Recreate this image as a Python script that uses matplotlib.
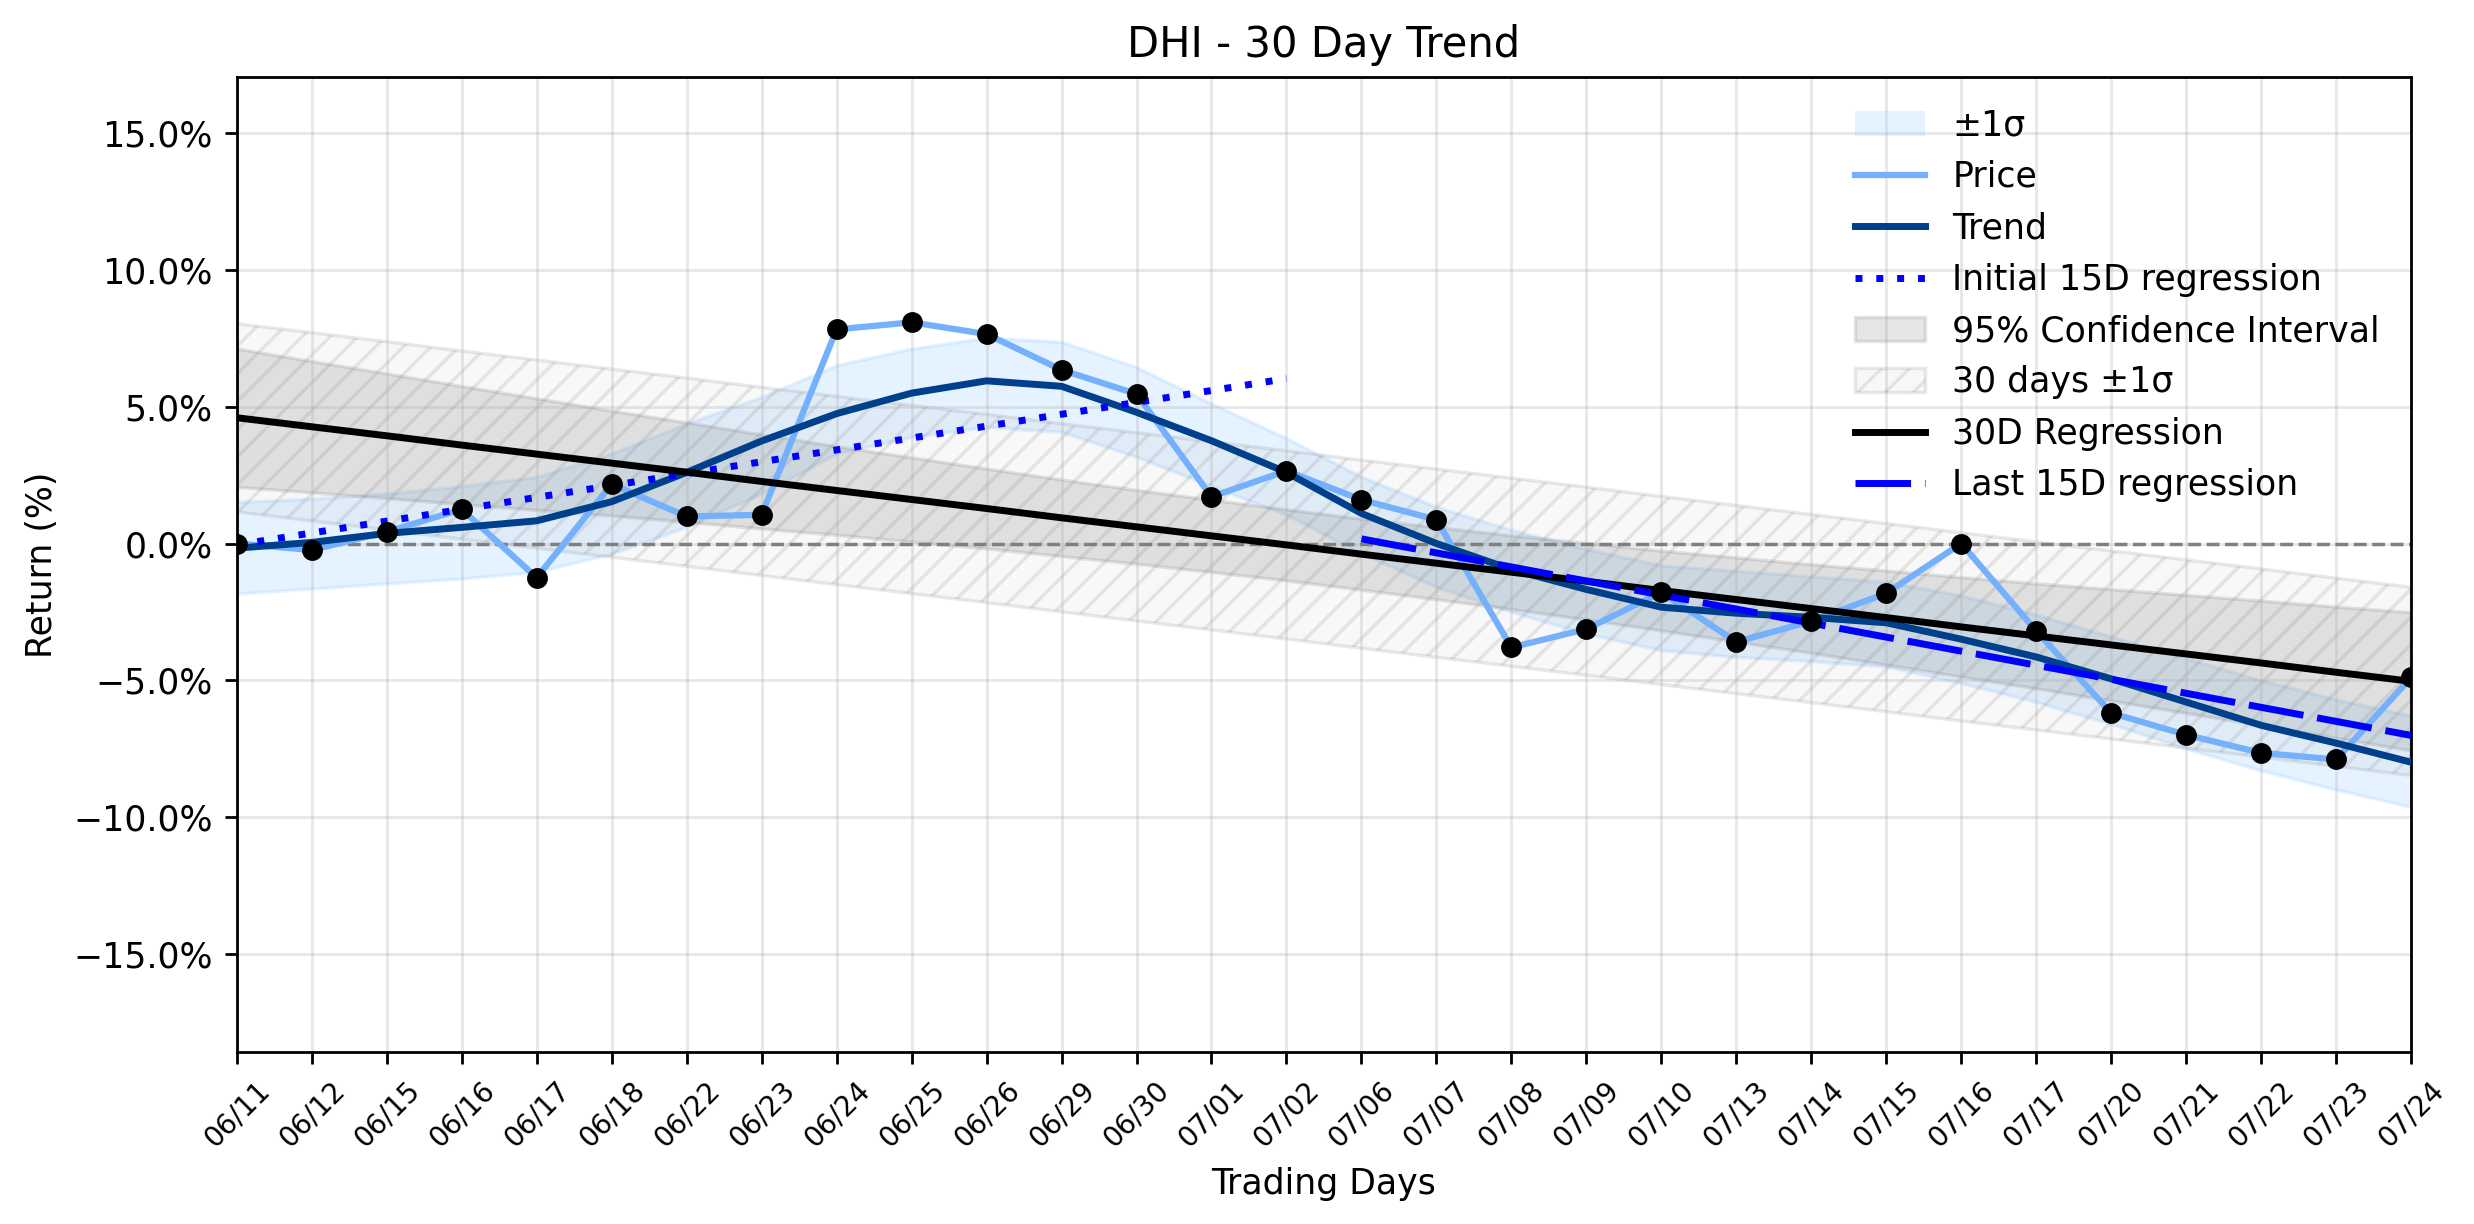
import numpy as np
import matplotlib.pyplot as plt
from matplotlib.patches import Patch
from matplotlib.lines import Line2D

# trading days shown on the x axis
dates = ['06/11', '06/12', '06/15', '06/16', '06/17', '06/18', '06/22', '06/23', '06/24', '06/25',
         '06/26', '06/29', '06/30', '07/01', '07/02', '07/06', '07/07', '07/08', '07/09', '07/10',
         '07/13', '07/14', '07/15', '07/16', '07/17', '07/20', '07/21', '07/22', '07/23', '07/24']

# cumulative return (%) of the price
price = [0.0, -0.24, 0.43, 1.25, -1.25, 2.17, 0.99, 1.05, 7.83, 8.09,
         7.66, 6.35, 5.47, 1.71, 2.66, 1.6, 0.87, -3.8, -3.13, -1.78,
         -3.6, -2.84, -1.82, 0.0, -3.2, -6.2, -7.0, -7.66, -7.9, -4.9]

# smoothed trend and its +/-1 sigma band
trend = [-0.17, 0.04, 0.37, 0.59, 0.83, 1.53, 2.6, 3.75, 4.75, 5.5,
         5.95, 5.75, 4.8, 3.76, 2.6, 1.1, 0.0, -0.95, -1.68, -2.33,
         -2.55, -2.7, -2.9, -3.5, -4.15, -4.95, -5.8, -6.65, -7.3, -8.0]
band_upper = [1.52, 1.64, 1.83, 2.1, 2.44, 3.29, 4.39, 5.36, 6.52, 7.13,
              7.53, 7.38, 6.45, 5.12, 3.85, 2.44, 1.34, 0.5, -0.2, -0.8,
              -1.0, -1.2, -1.4, -1.9, -2.6, -3.4, -4.2, -5.0, -5.7, -6.3]
band_lower = [-1.83, -1.65, -1.46, -1.28, -1.04, -0.37, 0.61, 1.83, 3.29, 3.9,
              4.27, 4.08, 3.17, 2.1, 1.05, -0.37, -1.59, -2.5, -3.3, -3.9,
              -4.15, -4.3, -4.5, -5.1, -5.8, -6.6, -7.5, -8.3, -9.0, -9.63]

# 30 day regression with its 95% confidence half width
reg_30d = [4.60, 4.27, 3.94, 3.60, 3.27, 2.94, 2.61, 2.27, 1.94, 1.61,
           1.28, 0.94, 0.61, 0.28, -0.05, -0.39, -0.72, -1.05, -1.38, -1.72,
           -2.05, -2.38, -2.71, -3.05, -3.38, -3.71, -4.04, -4.37, -4.71, -5.04]
ci_half = [2.53, 2.40, 2.28, 2.16, 2.04, 1.92, 1.82, 1.72, 1.62, 1.54,
           1.46, 1.40, 1.35, 1.32, 1.30, 1.30, 1.32, 1.35, 1.40, 1.46,
           1.54, 1.62, 1.72, 1.82, 1.92, 2.04, 2.16, 2.28, 2.40, 2.53]
sigma_30d = 3.44

# 15 day regressions (start / end values)
init_15d = [-0.05, 6.03]
last_15d = [0.17, -7.02]

x = np.arange(len(dates))
reg = np.array(reg_30d)
ci = np.array(ci_half)

fig, ax = plt.subplots(figsize=(9.896, 4.896), dpi=250)
fig.subplots_adjust(left=0.0957, right=0.9746, top=0.9368, bottom=0.1405)

ax.fill_between(x, band_lower, band_upper, color='#99ccff', alpha=0.25, linewidth=1)
ax.plot(x, price, color='#74b0fb', linewidth=1.8, zorder=3)
ax.plot(x, trend, color='#003f8c', linewidth=2, zorder=4)
ax.plot([0, 14], init_15d, color='blue', linestyle=(0, (1, 2)), linewidth=2, zorder=4)
ax.fill_between(x, reg - ci, reg + ci, color='gray', alpha=0.2, linewidth=1)
ax.fill_between(x, reg - sigma_30d, reg + sigma_30d, facecolor=(0.5, 0.5, 0.5, 0.05),
                edgecolor=(0.5, 0.5, 0.5, 0.17), hatch='///', linewidth=1)
ax.plot(x, reg, color='black', linewidth=2, zorder=4)
ax.plot([15, 29], last_15d, color='blue', linestyle=(0, (8, 2)), linewidth=2, zorder=4)
ax.scatter(x, price, color='black', s=25, zorder=5)
ax.axhline(0, color='gray', linestyle='--', linewidth=1)

ax.set_xlim(0, 29)
ax.set_ylim(-18.6, 17.05)
ax.set_xticks(x)
ax.set_xticklabels(dates, rotation=45, fontsize=8)
yt = np.arange(-15, 16, 5)
ax.set_yticks(yt)
ax.set_yticklabels(['{:.1f}%'.format(v).replace('-', '\u2212') for v in yt])
ax.grid(True, alpha=0.3)
ax.set_xlabel('Trading Days')
ax.set_ylabel('Return (%)')
ax.set_title('DHI - 30 Day Trend', fontsize=12)

handles = [
    Patch(facecolor='#99ccff', alpha=0.25),
    Line2D([], [], color='#74b0fb', linewidth=1.8),
    Line2D([], [], color='#003f8c', linewidth=2),
    Line2D([], [], color='blue', linestyle=(0, (1, 2)), linewidth=2),
    Patch(facecolor='gray', alpha=0.2, edgecolor='gray'),
    Patch(facecolor=(0.5, 0.5, 0.5, 0.05), edgecolor=(0.5, 0.5, 0.5, 0.17), hatch='///'),
    Line2D([], [], color='black', linewidth=2),
    Line2D([], [], color='blue', linestyle=(0, (8, 2)), linewidth=2),
]
labels = ['\u00b11\u03c3', 'Price', 'Trend', 'Initial 15D regression', '95% Confidence Interval',
          '30 days \u00b11\u03c3', '30D Regression', 'Last 15D regression']
ax.legend(handles, labels, loc='upper right', frameon=False, fontsize=10)

plt.savefig('out.png', dpi=250)
